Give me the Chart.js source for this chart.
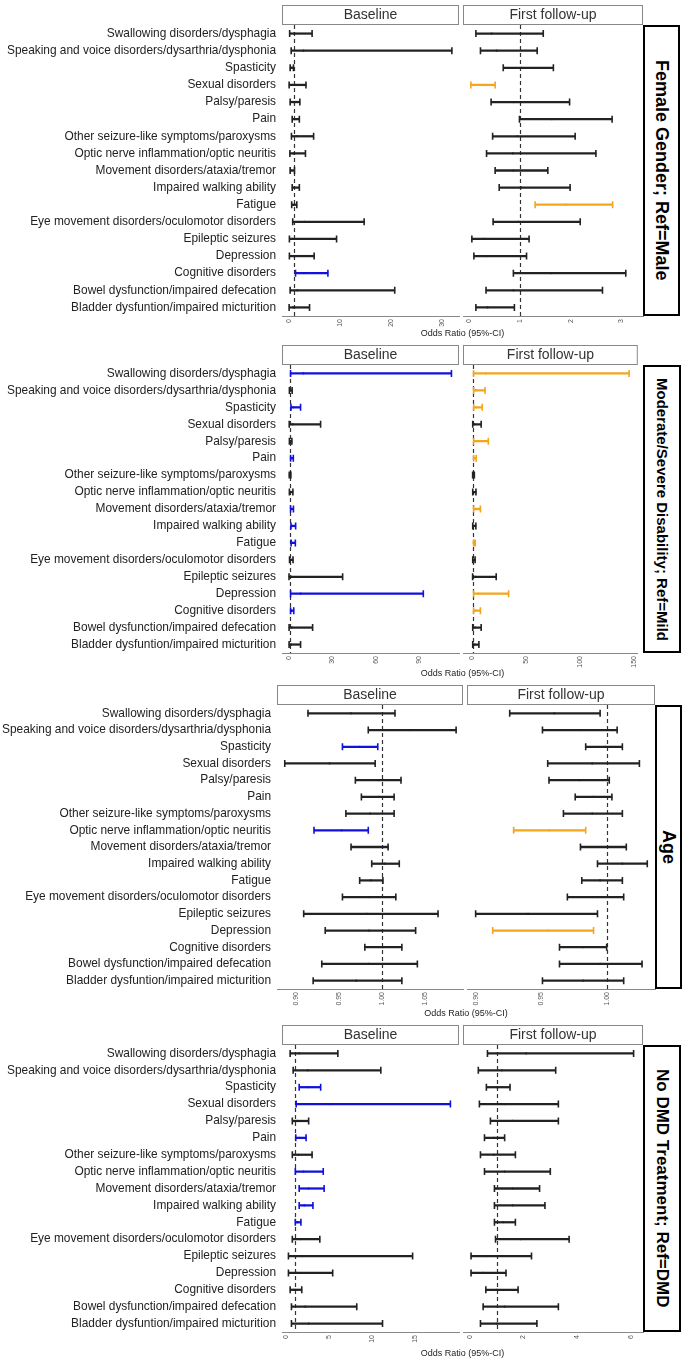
<!DOCTYPE html>
<html lang="en">
<head>
<meta charset="UTF-8">
<title>Odds ratios of symptoms</title>
<script src="https://cdn.jsdelivr.net/npm/chart.js"></script>
<style>
  body { margin: 0; background: #fff; font-family: "Liberation Sans", Arial, sans-serif; }
  #page { position: relative; width: 683px; height: 1360px; overflow: hidden; }
  canvas { position: absolute; }
  .xtitle { position: absolute; font-size: 9px; color: #222; transform: translateX(-50%); white-space: nowrap; }
  .side { position: absolute; border: 2px solid #000; box-sizing: border-box; display: flex; align-items: center; justify-content: center; background: #fff; }
  .side span { writing-mode: vertical-rl; font-weight: bold; color: #000; white-space: nowrap; }
</style>
</head>
<body>
<div id="page"></div>

<script>
const categories = [
  'Swallowing disorders/dysphagia',
  'Speaking and voice disorders/dysarthria/dysphonia',
  'Spasticity',
  'Sexual disorders',
  'Palsy/paresis',
  'Pain',
  'Other seizure-like symptoms/paroxysms',
  'Optic nerve inflammation/optic neuritis',
  'Movement disorders/ataxia/tremor',
  'Impaired walking ability',
  'Fatigue',
  'Eye movement disorders/oculomotor disorders',
  'Epileptic seizures',
  'Depression',
  'Cognitive disorders',
  'Bowel dysfunction/impaired defecation',
  'Bladder dysfuntion/impaired micturition'
];

// Female gender; Ref=Male
const femBaseLo  = [0.1, 0.4, 0.2, 0.0, 0.2, 0.6, 0.45, 0.15, 0.2, 0.6, 0.5, 0.7, 0.05, 0.05, 1.25, 0.2, 0.0];
const femBaseEst = [1.0, 2.8, 0.45, 0.6, 0.8, 1.1, 1.5, 0.9, 0.5, 1.0, 0.9, 3.0, 0.6, 0.9, 2.9, 1.6, 0.8];
const femBaseHi  = [4.5, 31.9, 0.85, 3.3, 2.1, 2.0, 4.8, 3.2, 1.05, 2.0, 1.5, 14.7, 9.3, 4.9, 7.6, 20.7, 4.0];
const femFuLo    = [0.13, 0.22, 0.67, 0.03, 0.43, 0.99, 0.46, 0.34, 0.51, 0.59, 1.30, 0.47, 0.05, 0.09, 0.87, 0.33, 0.13];
const femFuEst   = [0.44, 0.54, 1.03, 0.18, 0.88, 1.63, 0.95, 0.86, 0.87, 1.03, 1.90, 0.97, 0.28, 0.34, 1.61, 0.87, 0.36];
const femFuHi    = [1.46, 1.34, 1.66, 0.51, 1.98, 2.82, 2.09, 2.50, 1.55, 1.99, 2.83, 2.19, 1.18, 1.13, 3.09, 2.63, 0.89];
const femBaseSig = [14];
const femFuSig   = [3, 10];
const femBaseTicks = [0, 10, 20, 30];
const femFuTicks   = [0, 1, 2, 3];

// Moderate/Severe disability; Ref=Mild
const disBaseLo  = [1.1, 0.3, 1.4, 0.2, 0.3, 1.1, 0.2, 0.3, 1.1, 1.4, 1.5, 0.4, 0.05, 1.1, 1.1, 0.1, 0.1];
const disBaseEst = [9.9, 0.9, 3.0, 2.5, 0.9, 1.7, 0.6, 1.0, 1.8, 2.5, 2.6, 1.1, 2.0, 8.0, 1.7, 2.0, 1.5];
const disBaseHi  = [112, 2.2, 8.0, 21.8, 2.0, 3.0, 1.3, 2.7, 3.1, 4.6, 4.4, 2.8, 37, 92.6, 3.3, 16.3, 8.0];
const disFuLo    = [1.1, 1.1, 1.2, 0.3, 1.1, 1.1, 0.2, 0.3, 1.1, 0.3, 1.1, 0.3, 0.2, 1.1, 1.1, 0.3, 0.3];
const disFuEst   = [12.6, 3.0, 3.5, 2.0, 3.0, 1.5, 0.8, 1.2, 2.7, 1.2, 1.2, 1.0, 3.0, 5.7, 2.5, 2.5, 2.0];
const disFuHi    = [145, 11.7, 9.0, 8.1, 14.7, 3.5, 1.8, 3.3, 7.4, 3.2, 2.6, 2.5, 22, 33.5, 7.4, 8.1, 6.0];
const disBaseSig = [0, 2, 5, 8, 9, 10, 13, 14];
const disFuSig   = [0, 1, 2, 4, 5, 8, 10, 13, 14];
const disBaseTicks = [0, 30, 60, 90];
const disFuTicks   = [0, 50, 100, 150];

// Age
const ageBaseLo  = [0.914, 0.984, 0.954, 0.887, 0.969, 0.976, 0.958, 0.921, 0.964, 0.988, 0.974, 0.954, 0.909, 0.934, 0.980, 0.930, 0.920];
const ageBaseEst = [0.964, 1.032, 0.974, 0.939, 0.996, 0.996, 0.986, 0.953, 0.984, 1.003, 0.987, 0.985, 0.982, 0.985, 1.001, 0.984, 0.970];
const ageBaseHi  = [1.015, 1.086, 0.995, 0.992, 1.022, 1.014, 1.014, 0.984, 1.007, 1.020, 1.001, 1.016, 1.065, 1.039, 1.023, 1.041, 1.023];
const ageFuLo    = [0.926, 0.951, 0.984, 0.955, 0.956, 0.976, 0.967, 0.929, 0.980, 0.993, 0.981, 0.970, 0.900, 0.913, 0.964, 0.964, 0.951];
const ageFuEst   = [0.960, 0.979, 0.999, 0.989, 0.979, 0.990, 0.989, 0.956, 0.997, 1.012, 0.995, 0.993, 0.940, 0.955, 0.982, 0.995, 0.982];
const ageFuHi    = [0.995, 1.008, 1.012, 1.025, 1.002, 1.004, 1.012, 0.984, 1.015, 1.031, 1.012, 1.013, 0.993, 0.990, 1.000, 1.027, 1.013];
const ageBaseSig = [2, 7];
const ageFuSig   = [7, 13];
const ageBaseTicks = [0.90, 0.95, 1.00, 1.05];
const ageFuTicks   = [0.90, 0.95, 1.00];

// No DMD treatment; Ref=DMD
const dmdBaseLo  = [0.45, 0.8, 1.5, 1.15, 0.7, 1.1, 0.7, 1.05, 1.5, 1.5, 1.05, 0.7, 0.25, 0.25, 0.45, 0.6, 0.6];
const dmdBaseEst = [1.5, 2.5, 2.5, 5.0, 1.3, 1.5, 1.4, 2.0, 2.6, 2.1, 1.3, 1.7, 1.9, 1.2, 0.9, 2.2, 2.6];
const dmdBaseHi  = [6.0, 11.0, 4.0, 19.1, 2.6, 2.3, 3.0, 4.3, 4.4, 3.1, 1.7, 3.9, 14.7, 5.4, 1.8, 8.2, 11.2];
const dmdFuLo    = [0.66, 0.32, 0.62, 0.36, 0.77, 0.55, 0.4, 0.55, 0.92, 0.92, 0.92, 0.96, 0.05, 0.05, 0.6, 0.5, 0.4];
const dmdFuEst   = [2.1, 1.2, 1.0, 1.3, 1.6, 0.9, 0.9, 1.3, 1.6, 1.6, 1.25, 1.9, 0.6, 0.5, 1.0, 1.3, 1.0];
const dmdFuHi    = [6.1, 3.2, 1.5, 3.3, 3.3, 1.3, 1.7, 3.0, 2.6, 2.8, 1.7, 3.7, 2.3, 1.35, 1.8, 3.3, 2.5];
const dmdBaseSig = [2, 3, 5, 7, 8, 9, 10];
const dmdFuSig   = [];
const dmdBaseTicks = [0, 5, 10, 15];
const dmdFuTicks   = [0, 2, 4, 6];

const BLACK = '#222', BLUE = '#1111dd', ORANGE = '#f3a61c';
const FONT = '"Liberation Sans", Arial, sans-serif';
const XH = 22; // room for the rotated tick labels
Chart.defaults.font.family = FONT;

// facet strip on top of the plot area
const stripPlugin = {
  id: 'strip',
  afterDraw(chart, args, opts) {
    const { ctx, chartArea: a } = chart;
    ctx.save();
    ctx.strokeStyle = '#888';
    ctx.lineWidth = 1;
    ctx.strokeRect(a.left + 0.5, a.top - 19.5, a.right - a.left - 1, 19);
    ctx.fillStyle = '#333';
    ctx.font = '14px ' + FONT;
    ctx.textAlign = 'center';
    ctx.textBaseline = 'middle';
    ctx.fillText(opts.text, (a.left + a.right) / 2, a.top - 9.5);
    ctx.restore();
  }
};

// reference line at OR = 1, caps and point estimates
const whiskerPlugin = {
  id: 'whisker',
  beforeDatasetsDraw(chart) {
    const { ctx, chartArea: a, scales: { x } } = chart;
    const px = Math.round(x.getPixelForValue(1)) + 0.5;
    ctx.save();
    ctx.strokeStyle = '#333';
    ctx.lineWidth = 1.2;
    ctx.setLineDash([4, 3]);
    ctx.beginPath();
    ctx.moveTo(px, a.top);
    ctx.lineTo(px, a.bottom);
    ctx.stroke();
    ctx.restore();
  },
  afterDatasetsDraw(chart) {
    const { ctx, scales: { x, y } } = chart;
    const ds = chart.data.datasets[0];
    ctx.save();
    ctx.lineWidth = 1.6;
    ds.data.forEach((pair, i) => {
      const yy = y.getPixelForValue(i);
      const col = ds.backgroundColor[i];
      ctx.strokeStyle = col;
      ctx.beginPath();
      pair.forEach(v => {
        const px = x.getPixelForValue(v);
        ctx.moveTo(px, yy - 3.5);
        ctx.lineTo(px, yy + 3.5);
      });
      ctx.stroke();
      ctx.fillStyle = col;
      ctx.beginPath();
      ctx.arc(x.getPixelForValue(ds.est[i]), yy, 1.1, 0, Math.PI * 2);
      ctx.fill();
    });
    ctx.restore();
  }
};

function facet(f) {
  const c = document.createElement('canvas');
  c.width = f.w;
  c.height = 340;
  c.style.left = f.x + 'px';
  c.style.top = f.top + 'px';
  document.getElementById('page').appendChild(c);
  const colors = f.lo.map((_, i) => f.sig.includes(i) ? f.sigColor : BLACK);
  return new Chart(c, {
    type: 'bar',
    data: {
      labels: categories,
      datasets: [{
        data: f.lo.map((v, i) => [v, f.hi[i]]),
        est: f.est,
        backgroundColor: colors,
        barThickness: 1.6,
        borderWidth: 0
      }]
    },
    options: {
      responsive: false,
      animation: false,
      indexAxis: 'y',
      layout: { padding: { top: 25, bottom: 340 - f.bottom - XH, left: f.padL, right: f.padR } },
      plugins: {
        legend: { display: false },
        tooltip: { enabled: false },
        strip: { text: f.title }
      },
      scales: {
        x: {
          type: 'linear',
          min: f.min,
          max: f.max,
          afterBuildTicks: s => { s.ticks = f.ticks.map(v => ({ value: v })); },
          afterFit: s => { s.height = XH; },
          grid: { display: false, drawTicks: false },
          border: { display: true, color: '#888' },
          ticks: {
            autoSkip: false,
            minRotation: 90,
            maxRotation: 90,
            padding: 3,
            color: '#555',
            font: { size: 7 },
            callback: v => f.digits ? Number(v).toFixed(f.digits) : String(v)
          }
        },
        y: {
          display: f.labels,
          grid: { display: false, drawTicks: false },
          border: { display: false },
          afterFit: s => { s.width = f.yw; },
          ticks: { autoSkip: false, padding: 6, color: '#222', font: { size: 11.9 } }
        }
      }
    },
    plugins: [stripPlugin, whiskerPlugin]
  });
}

const panels = [
  { top: 0, label: 'Female Gender; Ref=Male', fs: 18, bottom: 316, digits: 0,
    base: [femBaseLo, femBaseEst, femBaseHi, femBaseSig, femBaseTicks, -1.4, 33.3],
    fu: [femFuLo, femFuEst, femFuHi, femFuSig, femFuTicks, -0.125, 3.43],
    yw: 282, bw: 460, fx: 460, fw: 186, side: [643, 37] },
  { top: 340, label: 'Moderate/Severe Disability; Ref=Mild', fs: 15, bottom: 313, digits: 0,
    base: [disBaseLo, disBaseEst, disBaseHi, disBaseSig, disBaseTicks, -4.8, 117.2],
    fu: [disFuLo, disFuEst, disFuHi, disFuSig, disFuTicks, -8.7, 153],
    yw: 282, bw: 460, fx: 460, fw: 186, side: [643, 38] },
  { top: 680, label: 'Age', fs: 18, bottom: 309, digits: 2,
    base: [ageBaseLo, ageBaseEst, ageBaseHi, ageBaseSig, ageBaseTicks, 0.878, 1.094],
    fu: [ageFuLo, ageFuEst, ageFuHi, ageFuSig, ageFuTicks, 0.8934, 1.0369],
    yw: 277, bw: 464, fx: 464, fw: 194, side: [655, 27] },
  { top: 1020, label: 'No DMD Treatment; Ref=DMD', fs: 17, bottom: 312, digits: 0,
    base: [dmdBaseLo, dmdBaseEst, dmdBaseHi, dmdBaseSig, dmdBaseTicks, -0.5, 20.1],
    fu: [dmdFuLo, dmdFuEst, dmdFuHi, dmdFuSig, dmdFuTicks, -0.25, 6.45],
    yw: 282, bw: 460, fx: 460, fw: 186, side: [643, 38] }
];

const page = document.getElementById('page');
panels.forEach(p => {
  const [bl, be, bh, bs, bt, bmin, bmax] = p.base;
  const [fl, fe, fh, fs, ft, fmin, fmax] = p.fu;
  facet({ x: 0, top: p.top, w: p.bw, yw: p.yw, padL: 0, padR: 1, labels: true,
    lo: bl, est: be, hi: bh, sig: bs, sigColor: BLUE, ticks: bt, min: bmin, max: bmax,
    bottom: p.bottom, digits: p.digits, title: 'Baseline' });
  facet({ x: p.fx, top: p.top, w: p.fw, yw: 0, padL: 3, padR: 3, labels: false,
    lo: fl, est: fe, hi: fh, sig: fs, sigColor: ORANGE, ticks: ft, min: fmin, max: fmax,
    bottom: p.bottom, digits: p.digits, title: 'First follow-up' });

  const t = document.createElement('div');
  t.className = 'xtitle';
  t.textContent = 'Odds Ratio (95%-CI)';
  t.style.left = ((p.yw + p.fx + p.fw - 3) / 2) + 'px';
  t.style.top = (p.top + 328) + 'px';
  page.appendChild(t);

  const s = document.createElement('div');
  s.className = 'side';
  s.style.left = p.side[0] + 'px';
  s.style.width = p.side[1] + 'px';
  s.style.top = (p.top + 25) + 'px';
  s.style.height = (p.bottom - 25) + 'px';
  s.innerHTML = '<span style="font-size:' + p.fs + 'px">' + p.label + '</span>';
  page.appendChild(s);
});
</script>
</body>
</html>
